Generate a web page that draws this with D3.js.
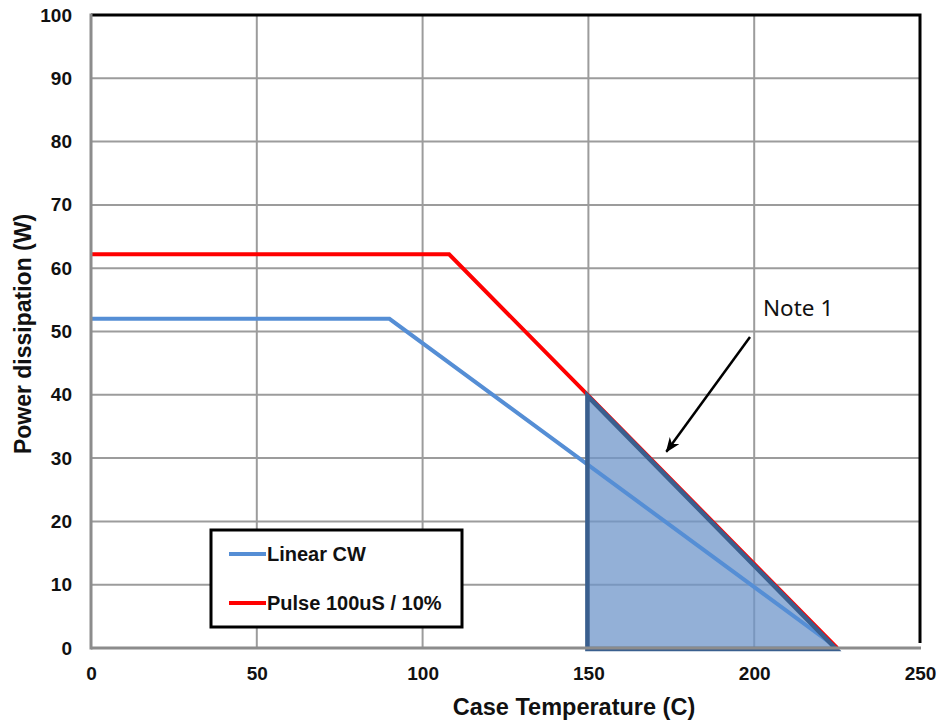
<!DOCTYPE html>
<html>
<head>
<meta charset="utf-8">
<script src="https://cdn.jsdelivr.net/npm/d3@7"></script>
<style>
  body { margin: 0; background: #fff; }
  svg { display: block; }
  .tick text { font-family: "Liberation Sans", Arial, sans-serif; font-weight: bold; font-size: 19px; fill: #111; }
</style>
</head>
<body>
<svg width="941" height="721"></svg>
<script>
// data
var xTicks = [0, 50, 100, 150, 200, 250];
var yTicks = [0, 10, 20, 30, 40, 50, 60, 70, 80, 90, 100];

var cwTemp  = [0, 90, 225];
var cwPower = [52, 52, 0];

var pulseTemp  = [0, 108, 225];
var pulsePower = [62.2, 62.2, 0];

// shaded region (Note 1)
var areaTemp  = [150, 150, 225];
var areaPower = [0, 40, 0];

var noteText = 'Note 1';
var noteFrom = [199, 49];   // temp, power where arrow starts
var noteTo   = [173.5, 31]; // temp, power where arrow points

var seriesNames = ['Linear CW', 'Pulse 100uS / 10%'];
var seriesColors = ['#558ed5', '#ff0000'];

var svg = d3.select('svg');

var x = d3.scaleLinear().domain([0, 250]).range([91, 920]);
var y = d3.scaleLinear().domain([0, 100]).range([648, 15]);

function pts(xs, ys) {
	return xs.map(function(v, i) { return [v, ys[i]]; });
}

var line = d3.line()
	.x(function(d) { return x(d[0]); })
	.y(function(d) { return y(d[1]); });

// grid
svg.append('g').selectAll('line.gy')
	.data(yTicks.slice(1, -1))
	.enter().append('line')
	.attr('x1', x(0)).attr('x2', x(250))
	.attr('y1', function(d) { return y(d); })
	.attr('y2', function(d) { return y(d); })
	.attr('stroke', '#9c9c9c').attr('stroke-width', 2);

svg.append('g').selectAll('line.gx')
	.data(xTicks.slice(1, -1))
	.enter().append('line')
	.attr('y1', y(0)).attr('y2', y(100))
	.attr('x1', function(d) { return x(d); })
	.attr('x2', function(d) { return x(d); })
	.attr('stroke', '#9c9c9c').attr('stroke-width', 2);

// plot border (top/right black)
svg.append('path')
	.attr('d', 'M' + x(0) + ',' + y(100) + 'H' + x(250) + 'V' + (y(0) - 5))
	.attr('fill', 'none').attr('stroke', '#000').attr('stroke-width', 3);

// shaded triangle fill
var tri = pts(areaTemp, areaPower);
svg.append('path')
	.attr('d', line(tri) + 'Z')
	.attr('fill', '#6f95c9').attr('fill-opacity', 0.75)
	.attr('stroke', 'none');

// series
svg.append('path')
	.attr('d', line(pts(cwTemp, cwPower)))
	.attr('fill', 'none').attr('stroke', seriesColors[0]).attr('stroke-width', 4);

svg.append('path')
	.attr('d', line(pts(pulseTemp, pulsePower)))
	.attr('fill', 'none').attr('stroke', seriesColors[1]).attr('stroke-width', 4);

// triangle outline, sits slightly inside the red edge
svg.append('path')
	.attr('d', line(tri) + 'Z')
	.attr('transform', 'translate(-1,1)')
	.attr('fill', 'none')
	.attr('stroke', '#3a5f8e').attr('stroke-width', 4.5)
	.attr('stroke-linejoin', 'miter');

// axes
var yAxis = d3.axisLeft(y).tickValues(yTicks).tickSize(0).tickPadding(19);
var gy = svg.append('g').attr('transform', 'translate(' + x(0) + ',0)').call(yAxis);
gy.select('.domain').remove();

var xAxis = d3.axisBottom(x).tickValues(xTicks).tickSize(0).tickPadding(19);
var gx = svg.append('g').attr('transform', 'translate(0,' + y(0) + ')').call(xAxis);
gx.select('.domain').remove();

svg.append('line')
	.attr('x1', x(0)).attr('x2', x(0)).attr('y1', y(100) - 1.5).attr('y2', y(0) + 1.5)
	.attr('stroke', '#8c8c8c').attr('stroke-width', 3);
svg.append('line')
	.attr('x1', x(0)).attr('x2', x(250) + 1).attr('y1', y(0)).attr('y2', y(0))
	.attr('stroke', '#8c8c8c').attr('stroke-width', 3);

// axis titles
svg.append('text')
	.attr('x', 574).attr('y', 715)
	.attr('text-anchor', 'middle')
	.style('font-family', '"Liberation Sans", Arial, sans-serif')
	.style('font-weight', 'bold').style('font-size', '23.5px')
	.attr('fill', '#111')
	.text('Case Temperature (C)');

svg.append('text')
	.attr('transform', 'translate(31,334) rotate(-90)')
	.attr('text-anchor', 'middle')
	.style('font-family', '"Liberation Sans", Arial, sans-serif')
	.style('font-weight', 'bold').style('font-size', '23px')
	.attr('fill', '#111')
	.text('Power  dissipation (W)');

// legend
var lg = svg.append('g').attr('transform', 'translate(211,530)');
lg.append('rect')
	.attr('width', 251).attr('height', 97)
	.attr('fill', '#fff').attr('stroke', '#000').attr('stroke-width', 3);
var item = lg.selectAll('g.item')
	.data(seriesNames)
	.enter().append('g')
	.attr('transform', function(d, i) { return 'translate(0,' + (24 + i * 49) + ')'; });
item.append('line')
	.attr('x1', 18).attr('x2', 55)
	.attr('stroke', function(d, i) { return seriesColors[i]; })
	.attr('stroke-width', 4);
item.append('text')
	.attr('x', 56).attr('y', 7)
	.style('font-family', '"Liberation Sans", Arial, sans-serif')
	.style('font-weight', 'bold').style('font-size', '20px')
	.attr('fill', '#111')
	.text(function(d) { return d; });

// note + arrow
svg.append('defs').append('marker')
	.attr('id', 'arr')
	.attr('viewBox', '0 0 14 11')
	.attr('refX', 13).attr('refY', 5.5)
	.attr('markerWidth', 15).attr('markerHeight', 12)
	.attr('markerUnits', 'userSpaceOnUse')
	.attr('orient', 'auto')
	.append('path')
	.attr('d', 'M0,0 L14,5.5 L0,11 L4,5.5 Z')
	.attr('fill', '#000');

svg.append('line')
	.attr('x1', 750).attr('y1', 337)
	.attr('x2', x(noteTo[0])).attr('y2', y(noteTo[1]))
	.attr('stroke', '#000').attr('stroke-width', 2.5)
	.attr('marker-end', 'url(#arr)');

svg.append('text')
	.attr('x', 763).attr('y', 316)
	.style('font-family', '"Noto Sans", sans-serif')
	.style('font-size', '22.5px')
	.attr('fill', '#111')
	.text(noteText);
</script>
</body>
</html>
